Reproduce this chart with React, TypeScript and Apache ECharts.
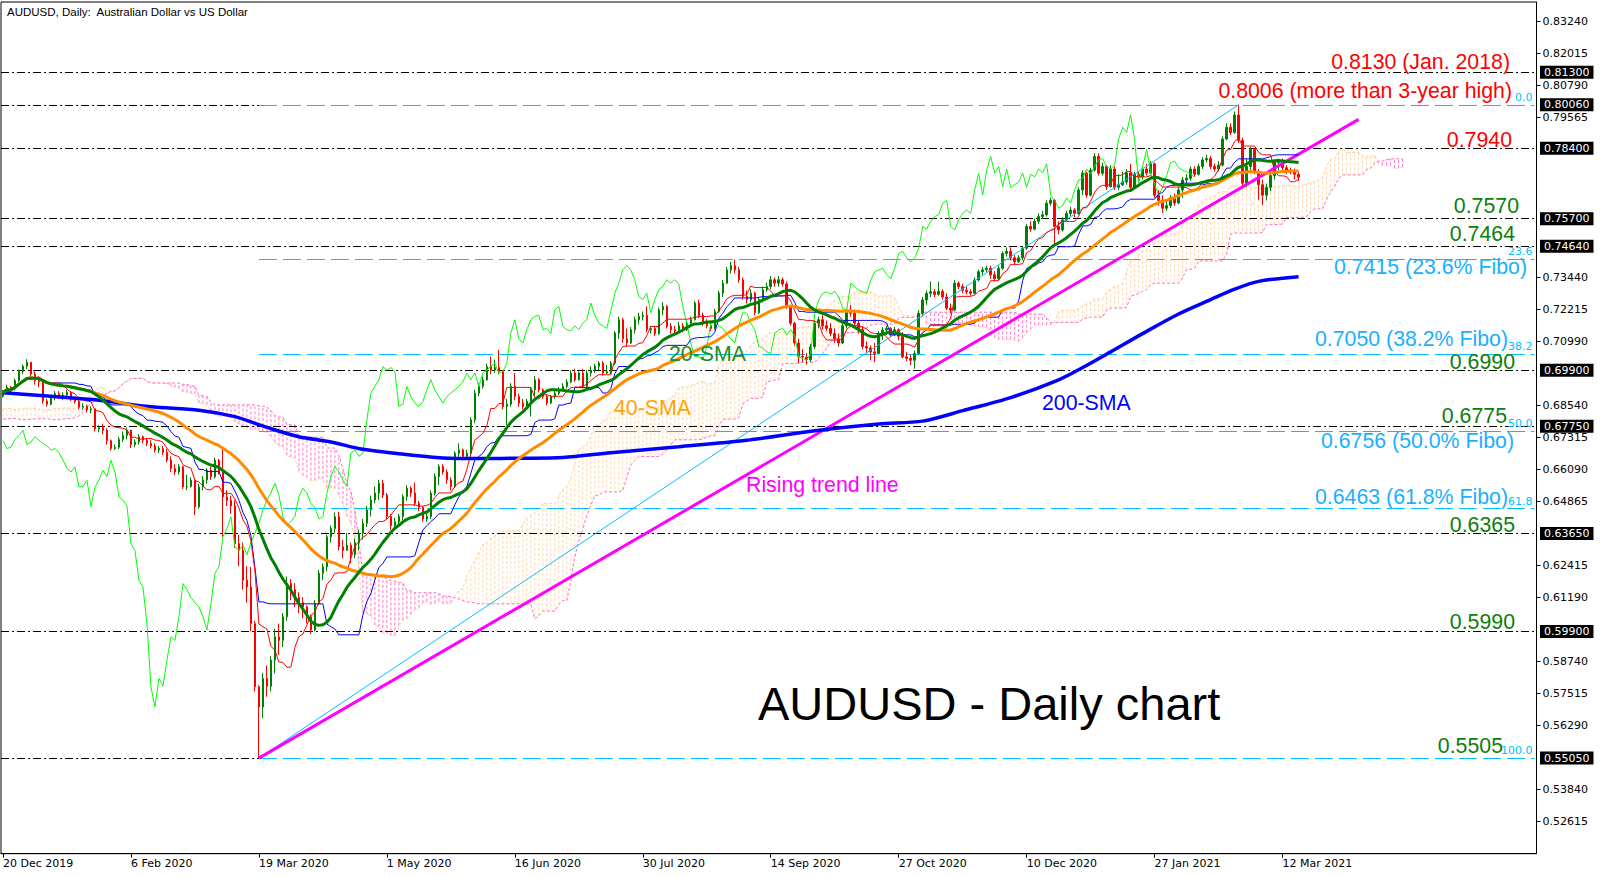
import React, { useEffect, useRef } from "react";
import * as echarts from "echarts";

// ---------- data ----------
const tickLabels = ["20 Dec 2019", "6 Feb 2020", "19 Mar 2020", "1 May 2020", "16 Jun 2020", "30 Jul 2020", "14 Sep 2020", "27 Oct 2020", "10 Dec 2020", "27 Jan 2021", "12 Mar 2021"];
const priceTicks = [0.8324, 0.82015, 0.8079, 0.79565, 0.7344, 0.72215, 0.7099, 0.6854, 0.67315, 0.6609, 0.64865, 0.62415, 0.6119, 0.5874, 0.57515, 0.5629, 0.5384, 0.52615];

const firstOpen = 6890; // pips x 10000
const closes = [
  6905, 6925, 6918, 6950, 6985, 7005, 7020, 6975, 6950, 6945,
  6872, 6860, 6885, 6900, 6888, 6895, 6905, 6880, 6870, 6848,
  6852, 6838, 6842, 6765, 6770, 6760, 6720, 6690, 6695, 6725,
  6740, 6760, 6705, 6715, 6735, 6722, 6709, 6700, 6684, 6690,
  6675, 6646, 6614, 6600, 6620, 6543, 6545, 6569, 6467, 6543,
  6570, 6607, 6582, 6645, 6600, 6505, 6492, 6470, 6326, 6300,
  6186, 6160, 6020, 5778, 5701, 5810, 5780, 5880, 5969, 5956,
  6046, 6173, 6150, 6120, 6100, 6084, 6046, 5995, 6097, 6212,
  6237, 6352, 6384, 6429, 6314, 6300, 6320, 6283, 6330, 6366,
  6404, 6455, 6493, 6520, 6557, 6512, 6430, 6395, 6410, 6430,
  6506, 6538, 6520, 6480, 6465, 6420, 6430, 6519, 6583, 6621,
  6600, 6570, 6545, 6672, 6685, 6660, 6672, 6800, 6902, 6928,
  6953, 7004, 6990, 7000, 6985, 6851, 6860, 6928, 6889, 6864,
  6851, 6870, 6915, 6953, 6915, 6889, 6864, 6889, 6902, 6915,
  6928, 6945, 6979, 6953, 6979, 6928, 6979, 6990, 7005, 7017,
  6979, 6985, 7017, 7132, 7183, 7110, 7094, 7145, 7183, 7196,
  7200, 7145, 7150, 7130, 7221, 7234, 7158, 7145, 7140, 7160,
  7145, 7170, 7183, 7247, 7200, 7170, 7160, 7150, 7215, 7285,
  7323, 7374, 7390, 7374, 7336, 7272, 7260, 7285, 7210, 7260,
  7298, 7310, 7336, 7323, 7336, 7320, 7234, 7170, 7094, 7043,
  7040, 7030, 7080, 7170, 7183, 7160, 7150, 7130, 7110, 7094,
  7160, 7210, 7208, 7170, 7145, 7081, 7075, 7060, 7054, 7131,
  7144, 7150, 7125, 7145, 7120, 7041, 7035, 7028, 7054, 7208,
  7259, 7284, 7290, 7280, 7292, 7270, 7227, 7220, 7323, 7310,
  7296, 7290, 7284, 7335, 7367, 7374, 7380, 7355, 7340, 7380,
  7437, 7445, 7420, 7405, 7420, 7457, 7540, 7530, 7560, 7578,
  7585, 7629, 7640, 7540, 7527, 7565, 7590, 7603, 7590, 7680,
  7744, 7660, 7756, 7808, 7744, 7770, 7692, 7760, 7690, 7700,
  7710, 7745, 7690, 7740, 7730, 7760, 7745, 7780, 7660, 7640,
  7610, 7620, 7650, 7630, 7680, 7718, 7725, 7760, 7740, 7770,
  7795, 7800, 7770, 7760, 7775, 7875, 7920, 7900, 7967, 7870,
  7706, 7770, 7835, 7750, 7700, 7660, 7690, 7735, 7785, 7790,
  7765, 7755, 7750, 7740, 7728.8,
];
const highs = [
  6915, 6935, 6930, 6958, 6992, 7012, 7032, 7020, 6985, 6962,
  6950, 6880, 6892, 6910, 6910, 6905, 6915, 6910, 6888, 6878,
  6862, 6858, 6852, 6820, 6780, 6785, 6768, 6725, 6705, 6735,
  6755, 6770, 6762, 6725, 6745, 6740, 6730, 6722, 6710, 6700,
  6700, 6690, 6660, 6630, 6630, 6625, 6590, 6580, 6575, 6555,
  6585, 6615, 6620, 6655, 6650, 6685, 6530, 6510, 6492, 6360,
  6330, 6240, 6237, 6030, 5784, 5830, 5860, 5895, 6000, 6020,
  6060, 6200, 6190, 6175, 6140, 6120, 6090, 6055, 6110, 6225,
  6250, 6360, 6395, 6445, 6448, 6340, 6366, 6330, 6345, 6380,
  6420, 6470, 6510, 6545, 6570, 6570, 6520, 6440, 6425, 6440,
  6515, 6550, 6545, 6560, 6490, 6470, 6440, 6530, 6595, 6630,
  6630, 6610, 6580, 6680, 6710, 6690, 6685, 6810, 6915, 6940,
  6965, 7015, 7042, 7030, 7068, 6990, 6880, 6940, 6979, 6900,
  6880, 6880, 6925, 6967, 6960, 6920, 6895, 6895, 6910, 6925,
  6940, 6955, 6990, 6995, 6985, 6995, 6990, 7005, 7015, 7025,
  7025, 7010, 7025, 7140, 7195, 7190, 7150, 7155, 7195, 7210,
  7215, 7234, 7160, 7160, 7230, 7250, 7240, 7170, 7160, 7175,
  7170, 7180, 7195, 7255, 7260, 7210, 7185, 7180, 7225, 7295,
  7335, 7385, 7405, 7413, 7385, 7345, 7295, 7300, 7290, 7270,
  7310, 7325, 7350, 7345, 7350, 7345, 7330, 7240, 7175, 7110,
  7070, 7055, 7090, 7180, 7195, 7200, 7180, 7170, 7150, 7130,
  7170, 7222, 7240, 7215, 7180, 7158, 7100, 7085, 7095, 7140,
  7155, 7160, 7155, 7155, 7150, 7135, 7060, 7050, 7065, 7220,
  7270, 7295, 7330, 7300, 7329, 7300, 7285, 7245, 7335, 7330,
  7320, 7310, 7300, 7345, 7375, 7385, 7390, 7390, 7370, 7390,
  7445, 7460, 7460, 7430, 7430, 7465, 7550, 7560, 7570, 7590,
  7600, 7640, 7650, 7645, 7560, 7575, 7600, 7615, 7610, 7690,
  7755, 7750, 7765, 7820, 7820, 7785, 7775, 7775, 7770, 7740,
  7750, 7760, 7780, 7750, 7750, 7770, 7780, 7790, 7785, 7680,
  7660, 7640, 7660, 7665, 7690, 7730, 7740, 7770, 7770, 7780,
  7805, 7815, 7810, 7780, 7790, 7885, 7935, 7935, 7980, 8006,
  7880, 7800, 7845, 7840, 7760, 7720, 7705, 7745, 7795, 7800,
  7800, 7775, 7765, 7762, 7750,
];
const lows = [
  6885, 6898, 6910, 6912, 6945, 6975, 6995, 6965, 6935, 6925,
  6862, 6850, 6855, 6875, 6880, 6875, 6885, 6872, 6862, 6840,
  6838, 6828, 6825, 6755, 6752, 6745, 6705, 6682, 6685, 6688,
  6715, 6725, 6692, 6695, 6705, 6710, 6700, 6690, 6675, 6672,
  6665, 6638, 6600, 6588, 6590, 6535, 6530, 6540, 6435, 6460,
  6530, 6555, 6570, 6575, 6590, 6352, 6470, 6440, 6310, 6240,
  6150, 6100, 5990, 5760, 5506, 5658, 5740, 5760, 5829, 5900,
  5930, 6030, 6110, 6084, 6060, 6040, 6020, 5980, 5990, 6090,
  6186, 6220, 6330, 6365, 6300, 6270, 6300, 6251, 6270, 6300,
  6341, 6390, 6430, 6480, 6493, 6500, 6420, 6379, 6385, 6400,
  6417, 6490, 6505, 6470, 6450, 6410, 6410, 6420, 6510, 6550,
  6590, 6555, 6530, 6540, 6650, 6645, 6655, 6660, 6787, 6890,
  6920, 6950, 6975, 6980, 6975, 6840, 6780, 6850, 6875, 6850,
  6840, 6850, 6813, 6890, 6905, 6880, 6855, 6860, 6880, 6895,
  6910, 6920, 6940, 6945, 6950, 6920, 6920, 6965, 6980, 6990,
  6970, 6975, 6975, 7010, 7110, 7095, 7080, 7090, 7130, 7165,
  7180, 7135, 7130, 7120, 7125, 7200, 7150, 7130, 7130, 7140,
  7135, 7140, 7165, 7180, 7190, 7160, 7150, 7140, 7145, 7210,
  7270, 7320, 7360, 7360, 7325, 7260, 7245, 7250, 7200, 7205,
  7250, 7290, 7300, 7310, 7310, 7310, 7225, 7160, 7085, 7017,
  7020, 7011, 7020, 7070, 7150, 7145, 7140, 7120, 7095, 7080,
  7090, 7150, 7195, 7160, 7130, 7070, 7055, 7028, 7020, 7050,
  7105, 7125, 7115, 7120, 7105, 7035, 7025, 7010, 6996, 7050,
  7200, 7240, 7270, 7270, 7275, 7260, 7220, 7210, 7215, 7300,
  7285, 7280, 7275, 7280, 7330, 7355, 7365, 7340, 7330, 7335,
  7375, 7425, 7410, 7395, 7400, 7410, 7450, 7520, 7525, 7550,
  7570, 7578, 7620, 7469, 7510, 7520, 7560, 7580, 7575, 7585,
  7660, 7650, 7655, 7750, 7735, 7735, 7680, 7690, 7680, 7680,
  7695, 7700, 7680, 7685, 7715, 7720, 7735, 7740, 7650, 7620,
  7592, 7600, 7610, 7620, 7625, 7650, 7700, 7715, 7730, 7735,
  7760, 7785, 7760, 7750, 7750, 7770, 7870, 7890, 7895, 7860,
  7690, 7690, 7750, 7740, 7642, 7623, 7640, 7675, 7720, 7755,
  7750, 7740, 7740, 7720, 7715,
];

// 200-SMA (bar index, value)
const sma200Idx = [0, 12, 24, 37, 49, 58, 66, 74, 82, 90, 99, 110, 119, 130, 140, 152, 169, 186, 203, 219, 230, 240, 252, 264, 270, 277, 285, 294, 302, 308, 314, 324];
const sma200Val = [0.6904, 0.689, 0.6875, 0.685, 0.6837, 0.6812, 0.6771, 0.6735, 0.6715, 0.6687, 0.667, 0.6654, 0.6652, 0.6653, 0.6656, 0.6674, 0.6697, 0.6722, 0.6758, 0.6784, 0.6795, 0.6835, 0.6885, 0.6953, 0.7, 0.706, 0.713, 0.7205, 0.726, 0.73, 0.733, 0.7348];

// Ichimoku cloud on the first 26 bars (its source lies before the chart)
const leadSpanA = [0.6843, 0.6845, 0.6843, 0.684, 0.684, 0.6843, 0.6845, 0.6845, 0.6843, 0.684, 0.6838, 0.6838, 0.684, 0.6843, 0.6843, 0.6845, 0.6845, 0.6843, 0.6843, 0.685, 0.6862, 0.688, 0.6898, 0.6912, 0.6922, 0.6926];
const leadSpanB = [0.6803, 0.6803, 0.6805, 0.6805, 0.6803, 0.68, 0.68, 0.6803, 0.6803, 0.6805, 0.6805, 0.6803, 0.6803, 0.68, 0.68, 0.6803, 0.6805, 0.6805, 0.6808, 0.6815, 0.683, 0.6848, 0.6862, 0.6876, 0.6888, 0.6894];

const levels = [0.813, 0.8006, 0.784, 0.757, 0.7464, 0.699, 0.6775, 0.6365, 0.599, 0.5505];
const lastPrice = 0.77288;
const fiboLevels = [0.8006, 0.7416, 0.7051, 0.6756, 0.646, 0.5505];
const fiboNames = ["0.0", "23.6", "38.2", "50.0", "61.8", "100.0"];
const fiboStartBar = 64;
const trendLine = [[64, 0.5505], [339, 0.795]];
const fiboDiagonal = [[64, 0.5505], [309, 0.8006]];

// ---------- layout ----------
const NCAT = 384;
const W = 1607;
const H = 877;

export default function App() {
  const ref = useRef<HTMLDivElement>(null);

  useEffect(() => {
    const chart = echarts.init(ref.current!, null, { renderer: "svg" });

    const C = closes.map((v) => v / 10000);
    const O = C.map((c, i) => (i === 0 ? firstOpen / 10000 : C[i - 1]));
    const Hi = highs.map((h, i) => Math.max(h / 10000, O[i], C[i]));
    const Lo = lows.map((l, i) => Math.min(l / 10000, O[i], C[i]));
    const N = C.length;

    const sma = (n: number) =>
      C.map((_, i) => {
        const s = Math.max(0, i - n + 1);
        let sum = 0;
        for (let k = s; k <= i; k++) sum += C[k];
        return +(sum / (i - s + 1)).toFixed(5);
      });
    const mid = (n: number, i: number) => {
      let hi = -Infinity, lo = Infinity;
      for (let k = Math.max(0, i - n + 1); k <= i; k++) {
        hi = Math.max(hi, Hi[k]);
        lo = Math.min(lo, Lo[k]);
      }
      return (hi + lo) / 2;
    };
    const tenkan = C.map((_, i) => +mid(9, i).toFixed(5));
    const kijun = C.map((_, i) => +mid(26, i).toFixed(5));
    const chikou = C.slice(26);
    const spanA: number[] = [];
    const spanB: number[] = [];
    for (let t = 0; t < N + 26; t++) {
      if (t < 26) {
        spanA.push(leadSpanA[t]);
        spanB.push(leadSpanB[t]);
      } else {
        const s = t - 26;
        spanA.push(+((tenkan[s] + kijun[s]) / 2).toFixed(5));
        spanB.push(+mid(52, s).toFixed(5));
      }
    }
    const cloudData = spanA.map((a, t) => [t, a, spanB[t]]);
    const candles = C.map((c, i) => [O[i], c, Lo[i], Hi[i]]);
    const cats = Array.from({ length: NCAT }, (_, i) => String(i));

    const FONT_AX = "DejaVu Sans";
    const FONT_TX = "Liberation Sans, Arial, sans-serif";
    const FIBO = "#00BFFF";

    const txt = (text: string, x: number, y: number, fill: string, size: number, align: string) => ({
      type: "text",
      x,
      y,
      z: 60,
      silent: true,
      style: { text, fill, fontSize: size, lineHeight: Math.round(size * 0.98), fontFamily: FONT_TX, align, verticalAlign: "middle" },
    });

    const option: any = {
      animation: false,
      backgroundColor: "#ffffff",
      grid: { left: 0.5, top: 2, width: 1536, height: 851.7, show: true, borderColor: "#000", borderWidth: 1, backgroundColor: "#fff" },
      xAxis: {
        type: "category",
        data: cats,
        boundaryGap: true,
        axisLine: { lineStyle: { color: "#000" } },
        axisTick: {
          show: true,
          alignWithLabel: true,
          length: 4,
          interval: (i: number) => i % 32 === 0 && i / 32 < tickLabels.length,
          lineStyle: { color: "#000" },
        },
        axisLabel: {
          interval: (i: number) => i % 32 === 0 && i / 32 < tickLabels.length,
          formatter: (_v: string, i: number) => tickLabels[i / 32] ?? "",
          align: "left",
          margin: 4,
          color: "#000",
          fontSize: 11,
          fontFamily: FONT_AX,
        },
        splitLine: { show: false },
      },
      yAxis: {
        type: "value",
        position: "right",
        min: 0.5139,
        max: 0.83994,
        axisLine: { show: true, lineStyle: { color: "#000" } },
        axisTick: { show: true, length: 4, customValues: priceTicks, lineStyle: { color: "#000" } },
        axisLabel: {
          customValues: priceTicks,
          formatter: (v: number) => v.toFixed(5),
          color: "#000",
          fontSize: 11,
          fontFamily: FONT_AX,
          margin: 6,
        },
        splitLine: { show: false },
      },
      series: [
        {
          type: "custom",
          name: "cloud",
          z: 1,
          silent: true,
          clip: true,
          encode: { x: 0, y: [1, 2] },
          data: cloudData,
          renderItem: (_p: any, api: any) => {
            const x = api.value(0);
            const a = api.value(1);
            const b = api.value(2);
            const p1 = api.coord([x, a]);
            const p2 = api.coord([x, b]);
            return {
              type: "line",
              shape: { x1: p1[0], y1: p1[1], x2: p2[0], y2: p2[1] },
              style: { stroke: a >= b ? "#FFD9B3" : "#FF78C8", lineWidth: 1, lineDash: [3, 2] },
            };
          },
        },
        { type: "line", name: "spanA", z: 2, data: spanA, symbol: "none", silent: true, lineStyle: { color: "#FFCFA0", width: 1, type: [3, 2] } },
        { type: "line", name: "spanB", z: 2, data: spanB, symbol: "none", silent: true, lineStyle: { color: "#FF6EC0", width: 1, type: [3, 2] } },
        {
          type: "line",
          name: "levels",
          z: 3,
          data: [],
          silent: true,
          markLine: {
            silent: true,
            precision: 5,
            symbol: ["none", "none"],
            lineStyle: { color: "#000", width: 1, type: [8, 3, 2, 3] },
            label: { show: true, position: "end", distance: 3.5, color: "#fff", backgroundColor: "#000", padding: [1, 4, 0, 4], fontSize: 11, lineHeight: 12, fontFamily: FONT_AX },
            data: [
              ...levels.map((v) => ({ yAxis: v, label: { formatter: v.toFixed(5) } })),
              { yAxis: lastPrice, lineStyle: { opacity: 0 }, label: { formatter: lastPrice.toFixed(5) } },
            ],
          },
        },
        {
          type: "line",
          name: "fiboUnder",
          z: 4,
          data: [],
          silent: true,
          markLine: {
            silent: true,
            precision: 5,
            symbol: ["none", "none"],
            label: { show: false },
            lineStyle: { color: "#fff", width: 1, type: "solid" },
            data: [fiboLevels[0], fiboLevels[fiboLevels.length - 1]].map((v) => [{ coord: [fiboStartBar, v] }, { coord: [NCAT - 1, v] }]),
          },
        },
        {
          type: "line",
          name: "fibo",
          z: 5,
          data: [],
          silent: true,
          markLine: {
            silent: true,
            precision: 5,
            symbol: ["none", "none"],
            lineStyle: { color: FIBO, width: 1, type: [18, 6] },
            label: {
              show: true,
              position: "insideEndTop",
              distance: 2,
              color: FIBO,
              fontSize: 11,
              fontFamily: FONT_AX,
              formatter: (p: any) => fiboNames[p.dataIndex],
            },
            data: fiboLevels.map((v) => [{ coord: [fiboStartBar, v] }, { coord: [NCAT - 1, v] }]),
          },
        },
        {
          type: "candlestick",
          name: "AUDUSD",
          z: 6,
          data: candles,
          barWidth: 2,
          silent: true,
          itemStyle: { color: "#008000", color0: "#FF0000", borderColor: "#008000", borderColor0: "#FF0000", borderWidth: 1 },
        },
        { type: "line", name: "fiboDiag", z: 7, data: fiboDiagonal, symbol: "none", silent: true, lineStyle: { color: FIBO, width: 1 } },
        { type: "line", name: "trend", z: 7, data: trendLine, symbol: "none", silent: true, lineStyle: { color: "#FF00FF", width: 3 } },
        { type: "line", name: "chikou", z: 8, data: chikou, symbol: "none", silent: true, lineStyle: { color: "#00FF00", width: 1 } },
        { type: "line", name: "kijun", z: 8, data: kijun, symbol: "none", silent: true, lineStyle: { color: "#0000FF", width: 1 } },
        { type: "line", name: "tenkan", z: 8, data: tenkan, symbol: "none", silent: true, lineStyle: { color: "#FF0000", width: 1 } },
        { type: "line", name: "sma200", z: 9, data: sma200Idx.map((x, k) => [x, sma200Val[k]]), smooth: 0.3, symbol: "none", silent: true, lineStyle: { color: "#0000FF", width: 3.5 } },
        { type: "line", name: "sma40", z: 9, data: sma(40), symbol: "none", silent: true, lineStyle: { color: "#FF8C00", width: 3 } },
        { type: "line", name: "sma20", z: 9, data: sma(20), symbol: "none", silent: true, lineStyle: { color: "#008000", width: 3 } },
      ],
      graphic: [
        txt("AUDUSD, Daily:  Australian Dollar vs US Dollar", 7, 12, "#000", 11.5, "left"),
        txt("0.8130 (Jan. 2018)", 1510, 61.5, "#FF0000", 21.3, "right"),
        txt("0.8006 (more than 3-year high)", 1512, 91, "#FF0000", 21.3, "right"),
        txt("0.7940", 1512, 139.5, "#FF0000", 21.3, "right"),
        txt("0.7570", 1519, 206, "#0A800A", 21.3, "right"),
        txt("0.7464", 1515, 233.5, "#0A800A", 21.3, "right"),
        txt("0.7415 (23.6% Fibo)", 1527, 267, "#1AB0FF", 21.3, "right"),
        txt("0.7050 (38.2% Fibo)", 1508, 339, "#1AB0FF", 21.3, "right"),
        txt("0.6990", 1515, 361.5, "#0A800A", 21.3, "right"),
        txt("0.6775", 1507, 415.5, "#0A800A", 21.3, "right"),
        txt("0.6756 (50.0% Fibo)", 1514, 441, "#1AB0FF", 21.3, "right"),
        txt("0.6463 (61.8% Fibo)", 1508, 497, "#1AB0FF", 21.3, "right"),
        txt("0.6365", 1515, 524.5, "#0A800A", 21.3, "right"),
        txt("0.5990", 1515, 622, "#0A800A", 21.3, "right"),
        txt("0.5505", 1503, 746, "#0A800A", 21.3, "right"),
        txt("20-SMA", 669, 354, "#1E8C1E", 21.3, "left"),
        txt("40-SMA", 614, 408, "#FFA500", 21.3, "left"),
        txt("200-SMA", 1042, 403, "#0000FF", 21.3, "left"),
        txt("Rising trend line", 746, 485, "#FF00FF", 21.3, "left"),
        txt("AUDUSD - Daily chart", 758, 703, "#000", 47, "left"),
      ],
    };

    chart.setOption(option);
    return () => chart.dispose();
  }, []);

  return <div ref={ref} style={{ position: "absolute", left: 0, top: 0, width: W, height: H, background: "#fff" }} />;
}
